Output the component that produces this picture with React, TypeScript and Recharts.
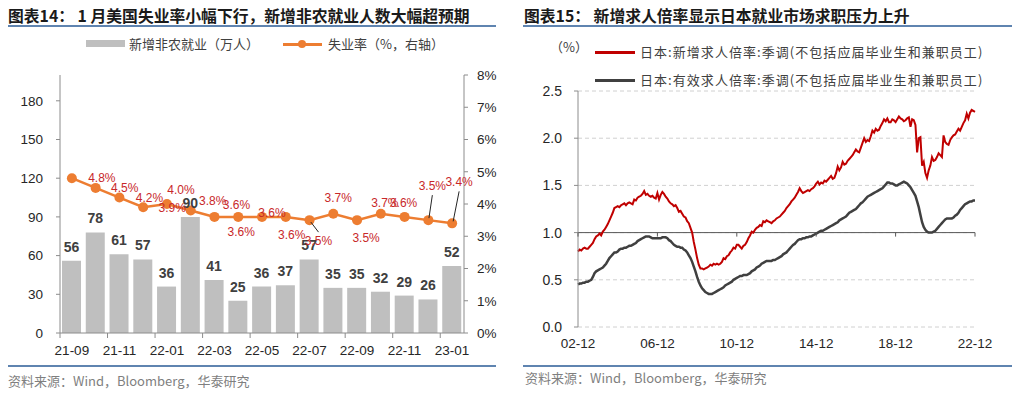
import React from "react"
import { ComposedChart, LineChart, Bar, Line, XAxis, YAxis, CartesianGrid, ReferenceLine, LabelList } from "recharts"

const FONT = '"Liberation Sans", Arial, "Noto Sans CJK SC", sans-serif'
const CJK = '"Noto Sans CJK SC", "Liberation Sans", sans-serif'
const RULE = "#5F84B0"

// ---- 图表14: 美国非农 / 失业率 ----
const US_MONTHS = ["21-09", "21-10", "21-11", "21-12", "22-01", "22-02", "22-03", "22-04", "22-05",
  "22-06", "22-07", "22-08", "22-09", "22-10", "22-11", "22-12", "23-01"]
const US_PAYROLLS = [56, 78, 61, 57, 36, 90, 41, 25, 36, 37, 57, 35, 35, 32, 29, 26, 52]
const US_UNEMP = [4.8, 4.5, 4.2, 3.9, 4.0, 3.8, 3.6, 3.6, 3.6, 3.6, 3.5, 3.7, 3.5, 3.7, 3.6, 3.5, 3.4]
const PAYROLL_TICKS = [0, 30, 60, 90, 120, 150, 180]
const RATE_TICKS = [0, 1, 2, 3, 4, 5, 6, 7, 8]

// label placement for the red % labels: [dx, dy, leader line]
const RATE_LABEL_POS: [number, number, number][] = [
  [30, 0, 0], [29, 0, 0], [30, 0, 0], [29, 1, 0], [14, -14, 0], [22, -9, 0], [22, -12, 0],
  [3, 15, 0], [10, -4, 0], [6, 18, 0], [9, 21, 1], [5, -16, 0], [9, 18, 0], [4, -11, 0],
  [-1, -14, 0], [4, -34, 1], [7, -41, 1],
]

// ---- 图表15: 日本求人倍率 (月度, 2002-12 起) ----
const JP_NEW = [
  0.80,
  0.82, 0.81, 0.83, 0.84, 0.83, 0.83, 0.85, 0.87, 0.89, 0.93, 0.96, 0.97,
  0.99, 0.97, 1.01, 1.03, 1.06, 1.09, 1.13, 1.17, 1.21, 1.26, 1.27, 1.28,
  1.27, 1.29, 1.30, 1.31, 1.29, 1.31, 1.32, 1.31, 1.30, 1.35, 1.34, 1.37,
  1.38, 1.39, 1.41, 1.44, 1.40, 1.41, 1.39, 1.38, 1.39, 1.37, 1.36, 1.42,
  1.35, 1.40, 1.43, 1.41, 1.38, 1.36, 1.33, 1.31, 1.30, 1.28, 1.29, 1.26,
  1.22, 1.23, 1.20, 1.17, 1.16, 1.12, 1.10, 1.05, 1.00, 0.90, 0.82, 0.73,
  0.66, 0.62, 0.62, 0.61, 0.62, 0.63, 0.64, 0.66, 0.65, 0.67, 0.66, 0.67,
  0.66, 0.67, 0.69, 0.73, 0.72, 0.75, 0.76, 0.79, 0.81, 0.84, 0.83, 0.87,
  0.87, 0.85, 0.83, 0.86, 0.87, 0.90, 0.94, 0.97, 1.01, 1.00, 1.03, 1.05,
  1.06, 1.08, 1.07, 1.12, 1.11, 1.13, 1.12, 1.11, 1.10, 1.12, 1.13, 1.15,
  1.16, 1.17, 1.19, 1.21, 1.23, 1.26, 1.28, 1.30, 1.33, 1.35, 1.37, 1.40,
  1.43, 1.47, 1.44, 1.42, 1.43, 1.44, 1.45, 1.44, 1.46, 1.47, 1.49, 1.52,
  1.54, 1.51, 1.53, 1.52, 1.55, 1.54, 1.56, 1.58, 1.60, 1.57, 1.58, 1.63,
  1.70, 1.66, 1.69, 1.75, 1.72, 1.73, 1.76, 1.78, 1.80, 1.82, 1.85, 1.88,
  1.86, 1.85, 1.90, 1.95, 2.00, 1.96, 1.98, 1.97, 2.02, 2.08, 2.06, 2.10,
  2.08, 2.09, 2.13, 2.16, 2.20, 2.18, 2.21, 2.17, 2.17, 2.20, 2.19, 2.17,
  2.20, 2.23, 2.21, 2.20, 2.18, 2.19, 2.21, 2.22, 2.12, 2.20, 2.19, 2.14,
  1.85, 2.00, 2.01, 1.71, 1.75, 1.63, 1.58, 1.66, 1.71, 1.80, 1.76, 1.77,
  1.80, 1.84, 1.82, 1.80, 2.03, 1.96, 1.94, 1.93, 1.98, 2.01, 2.03, 2.04,
  2.07, 2.10, 2.08, 2.12, 2.16, 2.19, 2.26, 2.21, 2.27, 2.30, 2.29, 2.28,
]
const JP_ACTIVE = [
  0.45,
  0.46, 0.46, 0.47, 0.47, 0.48, 0.48, 0.49, 0.50, 0.53, 0.57, 0.59, 0.60,
  0.61, 0.62, 0.63, 0.65, 0.67, 0.70, 0.73, 0.75, 0.77, 0.79, 0.79, 0.80,
  0.82, 0.83, 0.83, 0.84, 0.84, 0.85, 0.86, 0.86, 0.87, 0.88, 0.89, 0.91,
  0.92, 0.93, 0.94, 0.95, 0.96, 0.96, 0.96, 0.95, 0.94, 0.94, 0.94, 0.94,
  0.94, 0.94, 0.95, 0.95, 0.95, 0.94, 0.92, 0.91, 0.89, 0.87, 0.86, 0.85,
  0.85, 0.84, 0.84, 0.82, 0.81, 0.79, 0.76, 0.73, 0.69, 0.64, 0.59, 0.53,
  0.48, 0.44, 0.41, 0.39, 0.37, 0.36, 0.35, 0.35, 0.35, 0.36, 0.37, 0.38,
  0.39, 0.40, 0.41, 0.42, 0.44, 0.45, 0.46, 0.47, 0.48, 0.50, 0.51, 0.52,
  0.53, 0.54, 0.54, 0.55, 0.55, 0.55, 0.56, 0.57, 0.59, 0.60, 0.61, 0.63,
  0.64, 0.65, 0.67, 0.68, 0.69, 0.70, 0.70, 0.70, 0.70, 0.71, 0.71, 0.72,
  0.73, 0.74, 0.75, 0.77, 0.78, 0.79, 0.81, 0.83, 0.85, 0.87, 0.88, 0.90,
  0.92, 0.93, 0.93, 0.94, 0.94, 0.95, 0.95, 0.96, 0.96, 0.97, 0.98, 0.99,
  1.00, 1.01, 1.02, 1.02, 1.03, 1.04, 1.05, 1.06, 1.07, 1.08, 1.09, 1.10,
  1.11, 1.13, 1.14, 1.15, 1.16, 1.17, 1.19, 1.21, 1.22, 1.23, 1.24, 1.25,
  1.27, 1.29, 1.31, 1.32, 1.34, 1.36, 1.38, 1.39, 1.40, 1.41, 1.42, 1.43,
  1.44, 1.45, 1.46, 1.47, 1.49, 1.51, 1.53, 1.53, 1.52, 1.52, 1.51, 1.50,
  1.50, 1.51, 1.52, 1.53, 1.54, 1.53, 1.52, 1.50, 1.48, 1.45, 1.42, 1.39,
  1.33, 1.27, 1.19, 1.11, 1.06, 1.03, 1.01, 1.00, 1.00, 1.00, 1.01, 1.02,
  1.04, 1.06, 1.08, 1.10, 1.12, 1.14, 1.15, 1.15, 1.15, 1.15, 1.16, 1.18,
  1.19, 1.21, 1.24, 1.26, 1.28, 1.30, 1.31, 1.32, 1.33, 1.33, 1.34, 1.34,
]
const JP_TICKS = [0, 0.5, 1, 1.5, 2, 2.5]
const JP_START = 2002 * 12 + 11 // 2002-12

const pad = (n: number) => String(n).padStart(2, "0")
const jpMonths = JP_NEW.map((_, i) => {
  const t = JP_START + i
  return `${pad(Math.floor(t / 12) % 100)}-${pad((t % 12) + 1)}`
})

const usData = US_MONTHS.map((m, i) => ({ month: m, payrolls: US_PAYROLLS[i], rate: US_UNEMP[i] }))
const jpData = jpMonths.map((m, i) => ({ month: m, newRatio: JP_NEW[i], activeRatio: JP_ACTIVE[i] }))

// ---- layout ----
const L_W = 510, L_H = 365
const L_M = { top: 75, right: 0, bottom: 2, left: 0 }
const L_YL = 60, L_YR = 46
const L_BAND = (L_W - L_YL - L_YR) / US_MONTHS.length

const J_W = 512, J_H = 360
const J_M = { top: 91, right: 52, bottom: 3, left: 0 }
const J_YW = 63
const J_PLOT_H = J_H - J_M.top - J_M.bottom - 30
const J_Y_ONE = J_M.top + J_PLOT_H * (1 - 1 / 2.5)

function UsTick(props: any) {
  const { x, y, payload } = props
  const i = payload.index ?? props.index
  if (i % 2) return <g />
  const bx = x - L_BAND / 2
  return (
    <g>
      <line x1={bx} x2={bx} y1={y} y2={y + 5} stroke="#8c8c8c" />
      <text x={x} y={y + 17} textAnchor="middle" dominantBaseline="central" fontSize={13.5} fill="#262626" fontFamily={FONT}>
        {payload.value}
      </text>
    </g>
  )
}

function RateLabel(props: any) {
  const x = props.x ?? props.viewBox?.x
  const y = props.y ?? props.viewBox?.y
  const pos = RATE_LABEL_POS[props.index]
  if (!pos || x == null) return null
  const [dx, dy, leader] = pos
  const s = Math.sign(dy)
  return (
    <g>
      {leader ? (
        <line x1={x + dx * 0.15} y1={y + s * 2} x2={x + dx} y2={y + dy - s * 9} stroke="#262626" strokeWidth={1} />
      ) : null}
      <text x={x + dx} y={y + dy} textAnchor="middle" dominantBaseline="central" fontSize={12} fill="#C8282A" fontFamily={FONT}>
        {`${Number(props.value).toFixed(1)}%`}
      </text>
    </g>
  )
}

function JpTick(props: any) {
  const { x, y, payload } = props
  return (
    <g>
      <line x1={x} x2={x} y1={J_Y_ONE} y2={J_Y_ONE + 4} stroke="#595959" />
      <text x={x} y={y + 16} textAnchor="middle" dominantBaseline="central" fontSize={13.5} fill="#262626" fontFamily={FONT}>
        {payload.value}
      </text>
    </g>
  )
}

const txt = (left: number, cy: number, size: number, extra: React.CSSProperties = {}): React.CSSProperties => ({
  position: "absolute", left, top: cy - size * 0.6, fontSize: size, lineHeight: 1.2, whiteSpace: "nowrap", fontFamily: CJK, ...extra,
})

const rule = (left: number, top: number, width: number): React.CSSProperties => ({
  position: "absolute", left, top, width, height: 2, background: RULE,
})

function UsChart() {
  return (
    <div style={{ position: "absolute", left: 0, top: 0, width: 515, height: 397 }}>
      <div style={txt(8, 16, 15.8, { fontWeight: 700, color: "#1a1a1a" })}>图表14： 1 月美国失业率小幅下行，新增非农就业人数大幅超预期</div>
      <div style={rule(8, 25, 488)} />
      <div style={{ position: "absolute", left: 86, top: 40, width: 39, height: 7, background: "#BFBFBF" }} />
      <div style={txt(129, 44, 13, { color: "#404040" })}>新增非农就业（万人）</div>
      <div style={{ position: "absolute", left: 283, top: 43, width: 39, height: 2.5, background: "#ED7D31" }} />
      <div style={{ position: "absolute", left: 298, top: 40, width: 8, height: 8, borderRadius: 4, background: "#ED7D31" }} />
      <div style={txt(328, 44, 13, { color: "#404040" })}>失业率（%，右轴）</div>
      <div style={{ position: "absolute", left: 0, top: 0 }}>
        <ComposedChart width={L_W} height={L_H} data={usData} margin={L_M} barCategoryGap={0}>
          <XAxis dataKey="month" interval={0} tickSize={0} tickMargin={0} tickLine={false} height={30}
            axisLine={{ stroke: "#8c8c8c" }} tick={<UsTick />} />
          <YAxis yAxisId="l" width={L_YL} domain={[0, 200]} ticks={PAYROLL_TICKS} tickSize={4} tickMargin={13}
            axisLine={{ stroke: "#8c8c8c" }} tickLine={{ stroke: "#8c8c8c" }}
            tick={{ fontSize: 13.5, fill: "#262626", fontFamily: FONT }} />
          <YAxis yAxisId="r" orientation="right" width={L_YR} domain={[0, 8]} ticks={RATE_TICKS} tickSize={4} tickMargin={9}
            axisLine={{ stroke: "#8c8c8c" }} tickLine={{ stroke: "#8c8c8c" }} tickFormatter={(v) => `${v}%`}
            tick={{ fontSize: 13.5, fill: "#262626", fontFamily: FONT }} />
          <Bar yAxisId="l" dataKey="payrolls" fill="#BFBFBF" barSize={19} isAnimationActive={false}>
            <LabelList dataKey="payrolls" position="top" offset={9} fill="#404040" fontSize={14} fontWeight={700} fontFamily={FONT} />
          </Bar>
          <Line yAxisId="r" dataKey="rate" stroke="#ED7D31" strokeWidth={2.5} isAnimationActive={false}
            dot={{ r: 5, fill: "#ED7D31", stroke: "none" }} activeDot={false}>
            <LabelList dataKey="rate" content={<RateLabel />} />
          </Line>
        </ComposedChart>
      </div>
      <div style={rule(8, 365, 488)} />
      <div style={txt(8, 381, 13, { color: "#7f7f7f" })}>资料来源：Wind，Bloomberg，华泰研究</div>
    </div>
  )
}

function JpChart() {
  return (
    <div style={{ position: "absolute", left: 515, top: 0, width: 512, height: 397 }}>
      <div style={txt(9, 16, 15.8, { fontWeight: 700, color: "#1a1a1a" })}>图表15： 新增求人倍率显示日本就业市场求职压力上升</div>
      <div style={rule(8, 25, 489)} />
      <div style={txt(35, 47, 13, { color: "#404040" })}>（%）</div>
      <div style={{ position: "absolute", left: 80, top: 51, width: 40, height: 2.5, background: "#C00000" }} />
      <div style={txt(125, 52, 13, { color: "#404040", letterSpacing: 1.05 })}>日本:新增求人倍率:季调(不包括应届毕业生和兼职员工)</div>
      <div style={{ position: "absolute", left: 80, top: 79, width: 40, height: 2.5, background: "#404040" }} />
      <div style={txt(125, 80, 13, { color: "#404040", letterSpacing: 1.05 })}>日本:有效求人倍率:季调(不包括应届毕业生和兼职员工)</div>
      <div style={{ position: "absolute", left: 0, top: 0 }}>
        <LineChart width={J_W} height={J_H} data={jpData} margin={J_M}>
          <CartesianGrid vertical={false} stroke="#D0D0D0" strokeDasharray="4 3" />
          <XAxis dataKey="month" interval={47} tickSize={0} tickMargin={0} tickLine={false} axisLine={false}
            height={30} tick={<JpTick />} />
          <YAxis width={J_YW} domain={[0, 2.5]} ticks={JP_TICKS} tickSize={4} tickMargin={12}
            axisLine={{ stroke: "#8c8c8c" }} tickLine={{ stroke: "#8c8c8c" }} tickFormatter={(v) => Number(v).toFixed(1)}
            tick={{ fontSize: 14, fill: "#262626", fontFamily: FONT }} />
          <ReferenceLine y={1} stroke="#595959" strokeWidth={1} />
          <Line dataKey="activeRatio" stroke="#404040" strokeWidth={2.5} dot={false} activeDot={false} isAnimationActive={false} />
          <Line dataKey="newRatio" stroke="#C00000" strokeWidth={2} dot={false} activeDot={false} isAnimationActive={false} />
        </LineChart>
      </div>
      <div style={rule(8, 365, 489)} />
      <div style={txt(10, 378, 13, { color: "#7f7f7f" })}>资料来源：Wind，Bloomberg，华泰研究</div>
    </div>
  )
}

export default function App() {
  return (
    <div style={{ position: "absolute", left: 0, top: 0, width: 1027, height: 397, background: "#fff", fontFamily: FONT, overflow: "hidden" }}>
      <UsChart />
      <JpChart />
    </div>
  )
}
